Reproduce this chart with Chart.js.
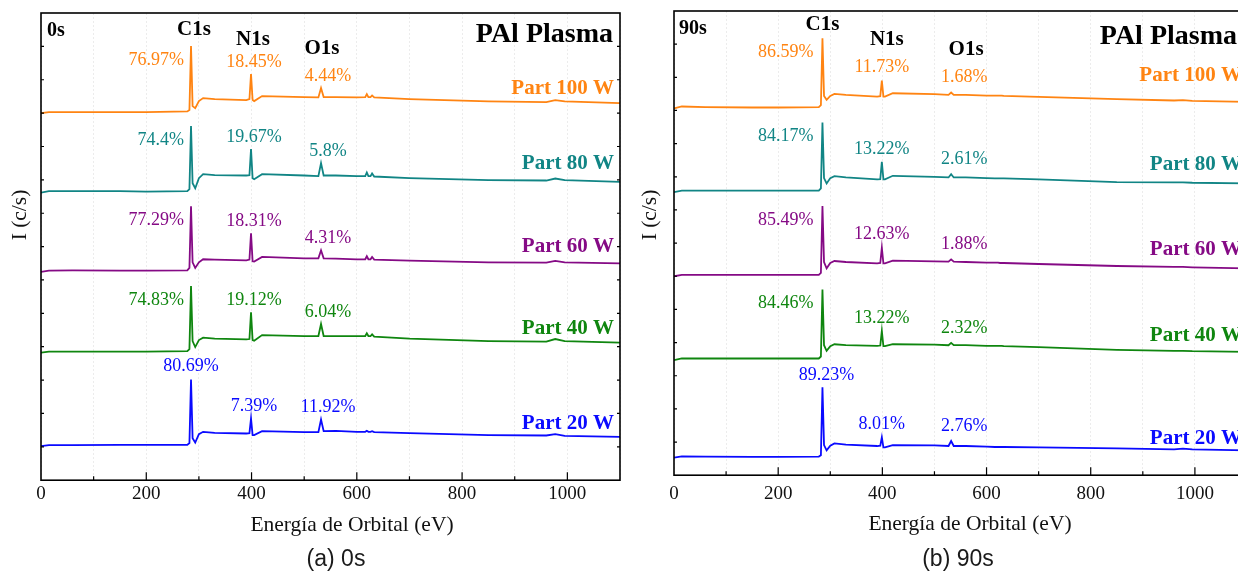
<!DOCTYPE html>
<html>
<head>
<meta charset="utf-8">
<script src="https://cdn.jsdelivr.net/npm/chart.js@4.4.0/dist/chart.umd.min.js"></script>
<style>
  html, body { margin: 0; padding: 0; background: #fff; overflow: hidden; width: 1238px; height: 571px; }
  .panel { position: absolute; top: 0; height: 571px; }
  .cap { position: absolute; top: 545px; width: 200px; text-align: center; font: 23px 'Liberation Sans', Arial, sans-serif; line-height: 26px; color: #1a1a1a; }
</style>
</head>
<body>
<div class="panel" style="left:0;width:630px"><canvas id="c0" width="630" height="571"></canvas></div>
<div class="panel" style="left:632px;width:625px"><canvas id="c90" width="625" height="571"></canvas></div>
<div class="cap" style="left:236px">(a) 0s</div>
<div class="cap" style="left:858px">(b) 90s</div>
<script>
// binding energy (eV) sampled along every survey spectrum
const energy = [0, 15, 60, 150, 200, 278, 282, 285, 288, 293, 300, 308, 330, 390, 396, 399, 402, 405, 420, 500,
  527, 532, 537, 560, 600, 616, 619, 622, 626, 629, 633, 700, 850, 960, 977, 995, 1100];

const powers = [100, 80, 60, 40, 20];
const colors = ['#ff8412', '#118585', '#850a85', '#0f860f', '#0a0aff'];
const peakNames = ['C1s', 'N1s', 'O1s'];
const peakEnergy = [285, 399, 532];

// intensity (a.u., stacked) (a) 0s
const p100_0s = [11.00, 11.03, 11.03, 11.03, 11.03, 11.05, 11.09, 13.01, 11.21, 11.15, 11.36, 11.45, 11.42, 11.39, 11.42, 12.17, 11.39, 11.36, 11.51, 11.48,
  11.47, 11.75, 11.48, 11.48, 11.47, 11.48, 11.57, 11.48, 11.48, 11.53, 11.47, 11.42, 11.35, 11.33, 11.39, 11.35, 11.30];
const p80_0s = [8.62, 8.66, 8.66, 8.66, 8.65, 8.66, 8.72, 10.61, 8.90, 8.75, 9.05, 9.17, 9.14, 9.13, 9.14, 9.92, 9.05, 9.02, 9.17, 9.13,
  9.11, 9.50, 9.13, 9.13, 9.11, 9.11, 9.22, 9.11, 9.11, 9.19, 9.10, 9.05, 8.99, 8.98, 9.04, 8.99, 8.94];
const p60_0s = [6.24, 6.28, 6.29, 6.28, 6.28, 6.29, 6.36, 8.21, 6.53, 6.36, 6.53, 6.62, 6.61, 6.59, 6.61, 7.40, 6.56, 6.55, 6.69, 6.65,
  6.65, 6.89, 6.65, 6.64, 6.62, 6.62, 6.71, 6.62, 6.62, 6.69, 6.61, 6.58, 6.53, 6.52, 6.57, 6.53, 6.50];
const p40_0s = [3.82, 3.85, 3.85, 3.85, 3.85, 3.87, 3.93, 5.82, 4.17, 3.99, 4.20, 4.27, 4.24, 4.22, 4.23, 5.03, 4.20, 4.18, 4.35, 4.32,
  4.32, 4.68, 4.32, 4.32, 4.32, 4.32, 4.40, 4.32, 4.32, 4.37, 4.30, 4.24, 4.17, 4.15, 4.23, 4.17, 4.12];
const p20_0s = [1.02, 1.05, 1.05, 1.06, 1.06, 1.06, 1.11, 3.02, 1.26, 1.13, 1.38, 1.45, 1.42, 1.40, 1.41, 1.85, 1.35, 1.35, 1.47, 1.44,
  1.44, 1.82, 1.47, 1.48, 1.45, 1.45, 1.48, 1.45, 1.45, 1.47, 1.44, 1.41, 1.35, 1.34, 1.38, 1.33, 1.30];

// intensity (a.u., stacked) (b) 90s
const p100_90s = [11.06, 11.12, 11.10, 11.09, 11.09, 11.10, 11.16, 13.18, 11.44, 11.32, 11.44, 11.50, 11.47, 11.42, 11.43, 11.90, 11.42, 11.42, 11.52, 11.49,
  11.47, 11.54, 11.47, 11.47, 11.45, 11.45, 11.45, 11.45, 11.45, 11.45, 11.44, 11.41, 11.34, 11.30, 11.31, 11.29, 11.26];
const p80_90s = [8.54, 8.58, 8.58, 8.58, 8.58, 8.58, 8.65, 10.64, 8.96, 8.80, 8.96, 9.02, 8.98, 8.92, 8.93, 9.45, 8.92, 8.92, 9.03, 9.00,
  8.98, 9.08, 8.98, 8.98, 8.96, 8.95, 8.95, 8.95, 8.95, 8.95, 8.95, 8.92, 8.84, 8.83, 8.83, 8.82, 8.80];
const p60_90s = [6.00, 6.04, 6.04, 6.04, 6.04, 6.04, 6.10, 8.12, 6.43, 6.24, 6.40, 6.46, 6.43, 6.39, 6.40, 6.86, 6.39, 6.39, 6.47, 6.45,
  6.44, 6.51, 6.44, 6.43, 6.41, 6.41, 6.41, 6.41, 6.40, 6.40, 6.40, 6.37, 6.31, 6.28, 6.28, 6.27, 6.24];
const p40_90s = [3.47, 3.52, 3.52, 3.52, 3.52, 3.52, 3.58, 5.60, 3.92, 3.75, 3.89, 3.95, 3.92, 3.90, 3.91, 4.35, 3.89, 3.89, 3.95, 3.94,
  3.92, 3.99, 3.92, 3.92, 3.90, 3.90, 3.90, 3.90, 3.90, 3.90, 3.89, 3.86, 3.78, 3.75, 3.75, 3.74, 3.72];
const p20_90s = [0.53, 0.57, 0.56, 0.55, 0.55, 0.56, 0.60, 2.65, 0.91, 0.75, 0.89, 0.96, 0.92, 0.88, 0.89, 1.14, 0.84, 0.84, 0.91, 0.90,
  0.88, 1.03, 0.88, 0.88, 0.86, 0.85, 0.85, 0.85, 0.85, 0.85, 0.85, 0.84, 0.81, 0.78, 0.80, 0.78, 0.75];

// atomic % per peak, order 100, 80, 60, 40, 20 W
const c1s_0s = [76.97, 74.4, 77.29, 74.83, 80.69];
const n1s_0s = [18.45, 19.67, 18.31, 19.12, 7.39];
const o1s_0s = [4.44, 5.8, 4.31, 6.04, 11.92];
const c1s_90s = [86.59, 84.17, 85.49, 84.46, 89.23];
const n1s_90s = [11.73, 13.22, 12.63, 13.22, 8.01];
const o1s_90s = [1.68, 2.61, 1.88, 2.32, 2.76];

const serif = "'Liberation Serif', 'Times New Roman', serif";

// layout tweaks per panel (pixels)
const panels = [
  {
    canvas: 'c0', tag: '0s', series: [p100_0s, p80_0s, p60_0s, p40_0s, p20_0s],
    pct: [c1s_0s, n1s_0s, o1s_0s],
    pad: { top: 13, left: 41, right: 10, bottom: 64 }, tickPad: 2,
    cLab: [-7, 14], bLab: [0, -13], nLab: [3, -12], oLab: [7, -12],
    headDx: [3, 2, 1], headDy: [22, 32, 41],
    nameDx: -6, nameDy: [-9, -13, -11, -9, -8],
    tagPos: [6, 23], brandPos: [-7, 29], xTitle: [311, 45], yTitle: [-21, 202]
  },
  {
    canvas: 'c90', tag: '90s', series: [p100_90s, p80_90s, p60_90s, p40_90s, p20_90s],
    pct: [c1s_90s, n1s_90s, o1s_90s],
    pad: { top: 11, left: 42, right: 10, bottom: 59 }, tickPad: 7,
    cLab: [-9, 14], bLab: [4, -12], nLab: [0, -13], oLab: [13, -15],
    headDx: [0, 5, 15], headDy: [19, 34, 44],
    nameDx: -5, nameDy: [-21, -13, -13, -11, -6],
    tagPos: [5, 23], brandPos: [-10, 33], xTitle: [296, 49], yTitle: [-24, 204]
  }
];

function decorPlugin(p) {
  return {
    id: 'decor',
    afterDraw(chart) {
      const { ctx, chartArea: a, scales: { x, y } } = chart;
      ctx.save();

      // frame + inward ticks
      ctx.strokeStyle = '#000';
      ctx.lineWidth = 1.6;
      ctx.strokeRect(a.left, a.top, a.right - a.left, a.bottom - a.top);
      ctx.lineWidth = 1.2;
      ctx.beginPath();
      for (let e = 100; e < x.max; e += 100) {
        const px = x.getPixelForValue(e);
        ctx.moveTo(px, a.bottom);
        ctx.lineTo(px, a.bottom - (e % 200 === 0 ? 8 : 4));
      }
      for (let v = y.min + 1; v < y.max; v++) {
        const py = y.getPixelForValue(v);
        ctx.moveTo(a.left, py); ctx.lineTo(a.left + 3, py);
        ctx.moveTo(a.right, py); ctx.lineTo(a.right - 3, py);
      }
      ctx.stroke();

      // peak percentages and series names
      const idx = peakEnergy.map(e => energy.indexOf(e));
      p.series.forEach((vals, i) => {
        ctx.fillStyle = colors[i];
        ctx.font = `18px ${serif}`;
        ctx.textBaseline = 'middle';
        idx.forEach((k, j) => {
          const px = x.getPixelForValue(energy[k]);
          const py = y.getPixelForValue(vals[k]);
          const txt = p.pct[j][i] + '%';
          let off;
          if (j === 0 && i < 4) { ctx.textAlign = 'right'; off = p.cLab; }
          else { ctx.textAlign = 'center'; off = j === 0 ? p.bLab : (j === 1 ? p.nLab : p.oLab); }
          ctx.fillText(txt, px + off[0], py + off[1]);
        });
        ctx.font = `bold 21px ${serif}`;
        ctx.textAlign = 'right';
        ctx.textBaseline = 'alphabetic';
        const yEnd = y.getPixelForValue(vals[vals.length - 1]);
        ctx.fillText(`Part ${powers[i]} W`, a.right + p.nameDx, yEnd + p.nameDy[i]);
      });

      // headings
      ctx.fillStyle = '#000';
      ctx.textBaseline = 'alphabetic';
      ctx.font = `bold 21px ${serif}`;
      ctx.textAlign = 'center';
      peakNames.forEach((n, j) => {
        ctx.fillText(n, x.getPixelForValue(peakEnergy[j]) + p.headDx[j], a.top + p.headDy[j]);
      });
      ctx.font = `bold 20px ${serif}`;
      ctx.textAlign = 'left';
      ctx.fillText(p.tag, a.left + p.tagPos[0], a.top + p.tagPos[1]);
      ctx.font = `bold 28px ${serif}`;
      ctx.textAlign = 'right';
      ctx.fillText('PAl Plasma', a.right + p.brandPos[0], a.top + p.brandPos[1]);

      // axis titles
      ctx.fillStyle = '#111';
      ctx.font = `21.5px ${serif}`;
      ctx.textAlign = 'center';
      ctx.textBaseline = 'middle';
      ctx.fillText('Energía de Orbital (eV)', a.left + p.xTitle[0], a.bottom + p.xTitle[1]);
      ctx.translate(a.left + p.yTitle[0], a.top + p.yTitle[1]);
      ctx.rotate(-Math.PI / 2);
      ctx.fillText('I (c/s)', 0, 0);
      ctx.restore();
    }
  };
}

panels.forEach(p => {
  new Chart(document.getElementById(p.canvas), {
    type: 'line',
    data: {
      datasets: p.series.map((vals, i) => ({
        label: `Part ${powers[i]} W`,
        data: energy.map((e, k) => ({ x: e, y: vals[k] })),
        borderColor: colors[i],
        borderWidth: 1.8,
        pointRadius: 0,
        tension: 0,
        fill: false
      }))
    },
    options: {
      responsive: false,
      animation: false,
      layout: { padding: p.pad },
      plugins: { legend: { display: false }, tooltip: { enabled: false } },
      scales: {
        x: {
          type: 'linear', min: 0, max: 1100,
          grid: { color: '#ececec', lineWidth: 1, drawTicks: false },
          border: { display: false, dash: [2, 2] },
          ticks: {
            stepSize: 100, autoSkip: false, maxRotation: 0, padding: p.tickPad,
            color: '#111', font: { family: serif, size: 19 },
            callback: v => (v % 200 === 0 && v <= 1000) ? v : ''
          }
        },
        y: { display: false, min: 0, max: 14 }
      }
    },
    plugins: [decorPlugin(p)]
  });
});
</script>
</body>
</html>
